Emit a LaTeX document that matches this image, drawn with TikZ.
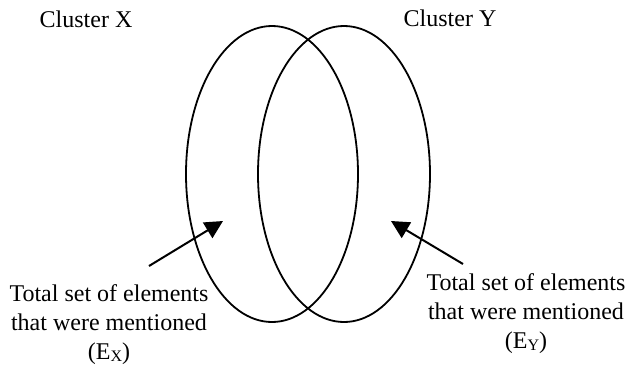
\documentclass[tikz,border=0pt]{standalone}
\usepackage{fontspec}
\setmainfont{Liberation Serif}
\usetikzlibrary{arrows.meta,shapes.geometric}

\newcommand{\clsub}[1]{\raisebox{-0.8pt}{\fontsize{8}{8}\selectfont #1}}

\tikzset{
	clusterset/.style={draw, ellipse, line width=0.9pt, inner sep=0pt,
		minimum width=86pt, minimum height=148pt},
	clusterlabel/.style={anchor=base, inner sep=0pt, font=\fontsize{12}{14.5}\selectfont},
	setlabel/.style={align=center, inner sep=0pt, font=\fontsize{12}{14.5}\selectfont},
	pointer/.style={line width=1pt, -{Triangle[length=9pt,width=9pt]}}
}

\begin{document}
	\begin{tikzpicture}[x=0.5pt, y=-0.5pt]
		\useasboundingbox (0,0) rectangle (629,371);
		% the two clusters
		\node[clusterset] (setX) at (272,174) {};
		\node[clusterset] (setY) at (344,174) {};
		\node[clusterlabel] (nameX) at (86,27) {Cluster X};
		\node[clusterlabel] (nameY) at (450,26) {Cluster Y};
		% what each cluster holds
		\node[setlabel] (elemX) at (109,325) {Total set of elements\\that were mentioned\\(E\clsub{X})};
		\node[setlabel] (elemY) at (526,314) {Total set of elements\\that were mentioned\\(E\clsub{Y})};
		\coordinate (fromX) at (149,266);
		\coordinate (intoX) at (223,221);
		\coordinate (fromY) at (463,264);
		\coordinate (intoY) at (391,221);
		\draw[pointer] (fromX) -- (intoX);
		\draw[pointer] (fromY) -- (intoY);
	\end{tikzpicture}
\end{document}
